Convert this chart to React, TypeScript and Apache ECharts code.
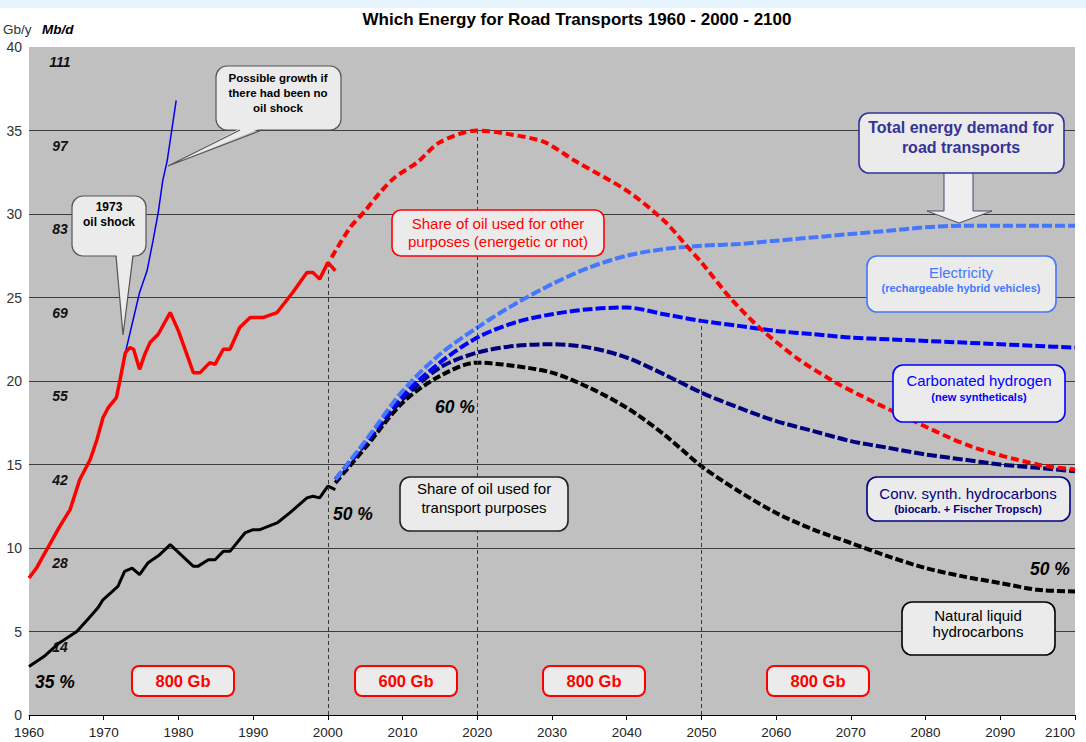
import React, { useEffect, useRef } from 'react';
import * as echarts from 'echarts';

// ---------- data ----------
const redHistYears = [1960, 1961, 1962, 1963, 1964, 1965.5, 1966.8, 1968.2, 1969.1, 1969.9, 1970.6, 1971.7, 1972.2, 1972.9, 1973.5, 1974, 1974.8, 1975.5, 1976.2, 1977.3, 1978.9, 1980, 1982, 1982.9, 1984.2, 1984.9, 1986, 1986.9, 1988.2, 1989.6, 1991.3, 1993.2, 1995.3, 1997.2, 1998, 1998.9, 2000, 2001];
const redHistVals = [8.2, 8.8, 9.6, 10.4, 11.2, 12.3, 14.1, 15.3, 16.5, 17.8, 18.4, 19.0, 20.1, 21.7, 22.0, 21.9, 20.7, 21.6, 22.3, 22.8, 24.1, 23.0, 20.5, 20.5, 21.1, 21.0, 21.9, 21.9, 23.2, 23.8, 23.8, 24.1, 25.3, 26.5, 26.5, 26.1, 27.1, 26.6];

const redFcYears = [2000.5, 2003, 2005, 2007, 2009, 2012, 2015, 2020, 2024, 2029, 2033, 2040, 2045, 2048, 2050, 2054, 2058, 2063, 2068, 2071, 2077, 2086, 2095, 2100];
const redFcVals = [27.4, 29.2, 30.2, 31.3, 32.2, 33.1, 34.3, 35.0, 34.8, 34.3, 33.2, 31.4, 29.6, 28.1, 27.1, 24.9, 23.1, 21.3, 19.9, 19.2, 17.9, 16.1, 15.0, 14.7];

const blackHistYears = [1960, 1962, 1964, 1966.4, 1968, 1969.2, 1969.9, 1971.9, 1972.8, 1973.8, 1974.8, 1975.9, 1977.5, 1978.9, 1982, 1982.6, 1984, 1984.9, 1986, 1986.9, 1988.9, 1990, 1990.9, 1993.2, 1994.9, 1997.2, 1998, 1998.9, 2000, 2001];
const blackHistVals = [2.9, 3.5, 4.3, 5.0, 5.8, 6.4, 6.9, 7.7, 8.6, 8.8, 8.4, 9.1, 9.6, 10.2, 8.9, 8.9, 9.3, 9.3, 9.8, 9.8, 10.9, 11.1, 11.1, 11.5, 12.1, 13.0, 13.1, 13.0, 13.7, 13.5];

const growthYears = [1972.9, 1974.8, 1975.8, 1976.6, 1977.3, 1977.9, 1978.5, 1979.7];
const growthVals = [21.7, 25.3, 26.6, 28.4, 30.1, 32.0, 33.2, 36.8];

const fcYears = [2001, 2005, 2010, 2015, 2020, 2025, 2030, 2035, 2040, 2045, 2050, 2055, 2060, 2065, 2070, 2075, 2080, 2085, 2090, 2095, 2100];
const electricityVals = [14.1, 16.4, 19.4, 21.6, 23.2, 24.6, 25.8, 26.8, 27.5, 27.9, 28.1, 28.2, 28.4, 28.6, 28.8, 29.0, 29.2, 29.3, 29.3, 29.3, 29.3];
const carbHydrogenVals = [14.1, 16.3, 19.1, 21.1, 22.6, 23.5, 24.0, 24.3, 24.4, 24.0, 23.6, 23.3, 23.0, 22.8, 22.6, 22.5, 22.4, 22.3, 22.2, 22.1, 22.0];
const convSynthVals = [14.1, 16.2, 18.9, 20.8, 21.7, 22.1, 22.2, 22.0, 21.4, 20.4, 19.3, 18.4, 17.6, 17.0, 16.4, 16.0, 15.6, 15.3, 15.0, 14.8, 14.6];
const naturalVals = [13.9, 16.0, 18.7, 20.3, 21.1, 20.9, 20.5, 19.6, 18.4, 16.8, 14.9, 13.4, 12.1, 11.1, 10.3, 9.5, 8.8, 8.3, 7.9, 7.5, 7.4];

const markYears = [2000, 2020, 2050];
const markTops = [27.1, 35.0, 23.6];

const gbTicks = [5, 10, 15, 20, 25, 30, 35, 40];
const mbdLabels = ['14', '28', '42', '55', '69', '83', '97', '111'];

// ---------- helpers ----------
const FONT = '"Liberation Sans", Arial, Helvetica, sans-serif';
const BOX_FILL = '#ebebeb';
const pts = (xs: number[], ys: number[]) => xs.map((x, i) => [x, ys[i]]);

function txt(text: string, x: number, y: number, o: any = {}) {
  return {
    type: 'text',
    z: 100,
    style: {
      text,
      x,
      y,
      fill: o.fill || '#000',
      fontSize: o.size || 13,
      fontWeight: o.weight || 'normal',
      fontStyle: o.style || 'normal',
      fontFamily: FONT,
      align: o.align || 'center',
      textAlign: o.align || 'center',
      verticalAlign: 'middle',
      textVerticalAlign: 'middle',
      lineHeight: o.lh || 16,
    },
  };
}

function box(x: number, y: number, w: number, h: number, stroke: string, lw = 1.6, r = 9) {
  return {
    type: 'rect',
    z: 100,
    shape: { x, y, width: w, height: h, r },
    style: { fill: BOX_FILL, stroke, lineWidth: lw },
  };
}

function gbBox(x: number, label: string) {
  return [box(x, 666, 102, 30, '#ff0000', 2, 7), txt(label, x + 51, 681, { fill: '#ff0000', size: 16.5, weight: 'bold' })];
}

function callout(
  bx: number, by: number, bw: number, bh: number,
  b1: number, b2: number, tipX: number, tipY: number,
  text: string, cx: number, cy: number, size: number, lh: number
) {
  const baseY = by + bh;
  return [
    box(bx, by, bw, bh, '#555555', 1.2, 11),
    {
      type: 'polygon', z: 101,
      shape: { points: [[b1 + 0.6, baseY - 2], [b2 - 0.6, baseY - 2], [tipX, tipY]] },
      style: { fill: BOX_FILL, stroke: null },
    },
    {
      type: 'polyline', z: 102,
      shape: { points: [[b1, baseY], [tipX, tipY], [b2, baseY]] },
      style: { fill: null, stroke: '#555555', lineWidth: 1.2 },
    },
    txt(text, cx, cy, { size, weight: 'bold', lh }),
  ];
}

export default function App() {
  const ref = useRef<HTMLDivElement>(null);

  useEffect(() => {
    const chart = echarts.init(ref.current!, null, { renderer: 'svg' });

    const dashedLine = (name: string, data: number[][], color: string, dash: number[], width = 4) => ({
      name,
      type: 'line',
      data,
      symbol: 'none',
      showSymbol: false,
      smooth: 0.3,
      lineStyle: { color, width, type: dash },
      z: 3,
    });

    const graphic: any[] = [
      { type: 'rect', z: 0, shape: { x: 0, y: 0, width: 1086, height: 8 }, style: { fill: '#e6f4fd' } },
      txt('Which Energy for Road Transports 1960 - 2000 - 2100', 577, 19, { size: 17, weight: 'bold' }),
      txt('Gb/y', 3, 29, { align: 'left', fill: '#333', size: 13.5 }),
      txt('Mb/d', 42, 29, { align: 'left', size: 13.5, weight: 'bold', style: 'italic' }),

      ...callout(216, 66, 125, 64, 240, 262, 168, 166, 'Possible growth if\nthere had been no\noil shock', 278, 93, 11.5, 15),
      ...callout(72, 196, 74, 60, 116, 133, 123, 335, '1973\noil shock', 109, 214, 12, 15),

      box(392, 210, 212, 46, '#ff0000', 1.6, 9),
      txt('Share of oil used for other\npurposes (energetic or not)', 498, 232, { fill: '#ff0000', size: 15, lh: 18 }),

      box(400, 477, 168, 54, '#222222', 1.6, 10),
      txt('Share of oil used for\ntransport purposes', 484, 498, { size: 15, lh: 19 }),

      {
        type: 'polygon', z: 99,
        shape: { points: [[944, 170], [973, 170], [973, 211], [992, 211], [959, 223], [927, 211], [944, 211]] },
        style: { fill: '#eeeeee', stroke: '#4a4a6a', lineWidth: 1 },
      },
      box(859, 113, 205, 60, '#333399', 1.6, 10),
      txt('Total energy demand for\nroad transports', 961, 137, { fill: '#333399', size: 16, weight: 'bold', lh: 20 }),

      box(867, 256, 189, 56, '#4477ff', 1.6, 10),
      txt('Electricity', 961, 272, { fill: '#4477ff', size: 15 }),
      txt('(rechargeable hybrid vehicles)', 961, 288, { fill: '#4477ff', size: 11, weight: 'bold' }),

      box(893, 365, 172, 57, '#0000ff', 1.6, 10),
      txt('Carbonated hydrogen', 979, 380, { fill: '#0000ff', size: 15 }),
      txt('(new syntheticals)', 979, 397, { fill: '#0000ff', size: 11, weight: 'bold' }),

      box(867, 477, 203, 44, '#000080', 1.6, 10),
      txt('Conv. synth. hydrocarbons', 968, 493, { fill: '#000080', size: 15 }),
      txt('(biocarb. + Fischer Tropsch)', 968, 509, { fill: '#000080', size: 11, weight: 'bold' }),

      box(902, 602, 153, 53, '#000000', 1.6, 10),
      txt('Natural liquid\nhydrocarbons', 978, 623, { size: 15, lh: 16 }),

      ...gbBox(132, '800 Gb'),
      ...gbBox(355, '600 Gb'),
      ...gbBox(543, '800 Gb'),
      ...gbBox(767, '800 Gb'),

      txt('35 %', 35, 682, { align: 'left', size: 17.5, weight: 'bold', style: 'italic' }),
      txt('50 %', 333, 514, { align: 'left', size: 17.5, weight: 'bold', style: 'italic' }),
      txt('60 %', 435, 407, { align: 'left', size: 17.5, weight: 'bold', style: 'italic' }),
      txt('50 %', 1030, 569, { align: 'left', size: 17.5, weight: 'bold', style: 'italic' }),
    ];

    const option: any = {
      animation: false,
      backgroundColor: '#ffffff',
      textStyle: { fontFamily: FONT },
      grid: {
        left: 29, right: 11, top: 47, bottom: 27,
        show: true, backgroundColor: '#c0c0c0', borderWidth: 0,
        containLabel: false, outerBoundsMode: 'none',
      },
      xAxis: {
        type: 'value', min: 1960, max: 2100, interval: 10,
        axisLine: { show: true, lineStyle: { color: '#000', width: 1 } },
        axisTick: { show: true, length: 5, lineStyle: { color: '#000' } },
        axisLabel: {
          color: '#222', fontSize: 13.5, margin: 10, fontFamily: FONT,
          alignMaxLabel: 'right',
          formatter: (v: number) => String(v),
        },
        splitLine: { show: false },
      },
      yAxis: [
        {
          type: 'value', min: 0, max: 40, interval: 5,
          axisLine: { show: false },
          axisTick: { show: false },
          axisLabel: { color: '#333', fontSize: 14, margin: 7, fontFamily: FONT },
          splitLine: { show: true, showMaxLine: false, showMinLine: false, lineStyle: { color: '#3c3c3c', width: 1 } },
        },
        {
          type: 'value', min: 0, max: 40, interval: 5, position: 'left',
          axisLine: { show: false },
          axisTick: { show: false },
          splitLine: { show: false },
          axisLabel: {
            inside: true, margin: 31, align: 'center', verticalAlign: 'top', padding: [8, 0, 0, 0],
            color: '#111', fontSize: 14, fontWeight: 'bold', fontStyle: 'italic', fontFamily: FONT,
            formatter: (v: number) => {
              const i = gbTicks.indexOf(v);
              return i >= 0 ? mbdLabels[i] : '';
            },
          },
        },
      ],
      graphic,
      series: [
        {
          name: 'marks', type: 'line', data: [], symbol: 'none', z: 1, silent: true,
          markLine: {
            silent: true, symbol: ['none', 'none'], animation: false,
            label: { show: false },
            lineStyle: { color: '#3a3a3a', width: 1, type: [4, 3] },
            data: markYears.map((yr, i) => [{ coord: [yr, 0] }, { coord: [yr, markTops[i]] }]),
          },
        },
        dashedLine('Natural liquid hydrocarbons', pts(fcYears, naturalVals), '#000000', [8, 3]),
        dashedLine('Conv. synth. hydrocarbons', pts(fcYears, convSynthVals), '#00007f', [10, 3]),
        dashedLine('Carbonated hydrogen', pts(fcYears, carbHydrogenVals), '#0000ff', [10, 3]),
        dashedLine('Electricity', pts(fcYears, electricityVals), '#4477ff', [10, 3]),
        {
          name: 'Transport oil', type: 'line', data: pts(blackHistYears, blackHistVals),
          symbol: 'none', lineStyle: { color: '#000', width: 3 }, z: 4,
        },
        {
          name: 'Growth without shock', type: 'line', data: pts(growthYears, growthVals),
          symbol: 'none', lineStyle: { color: '#0000ee', width: 1.5 }, z: 4,
        },
        {
          name: 'Total oil', type: 'line', data: pts(redHistYears, redHistVals),
          symbol: 'none', lineStyle: { color: '#ff0000', width: 3.5 }, z: 5,
        },
        { ...dashedLine('Other purposes', pts(redFcYears, redFcVals), '#ff0000', [8, 4]), z: 5 },
      ],
    };

    chart.setOption(option);
    return () => chart.dispose();
  }, []);

  return (
    <div
      ref={ref}
      style={{ position: 'fixed', left: 0, top: 0, width: 1086, height: 742, background: '#fff' }}
    />
  );
}
